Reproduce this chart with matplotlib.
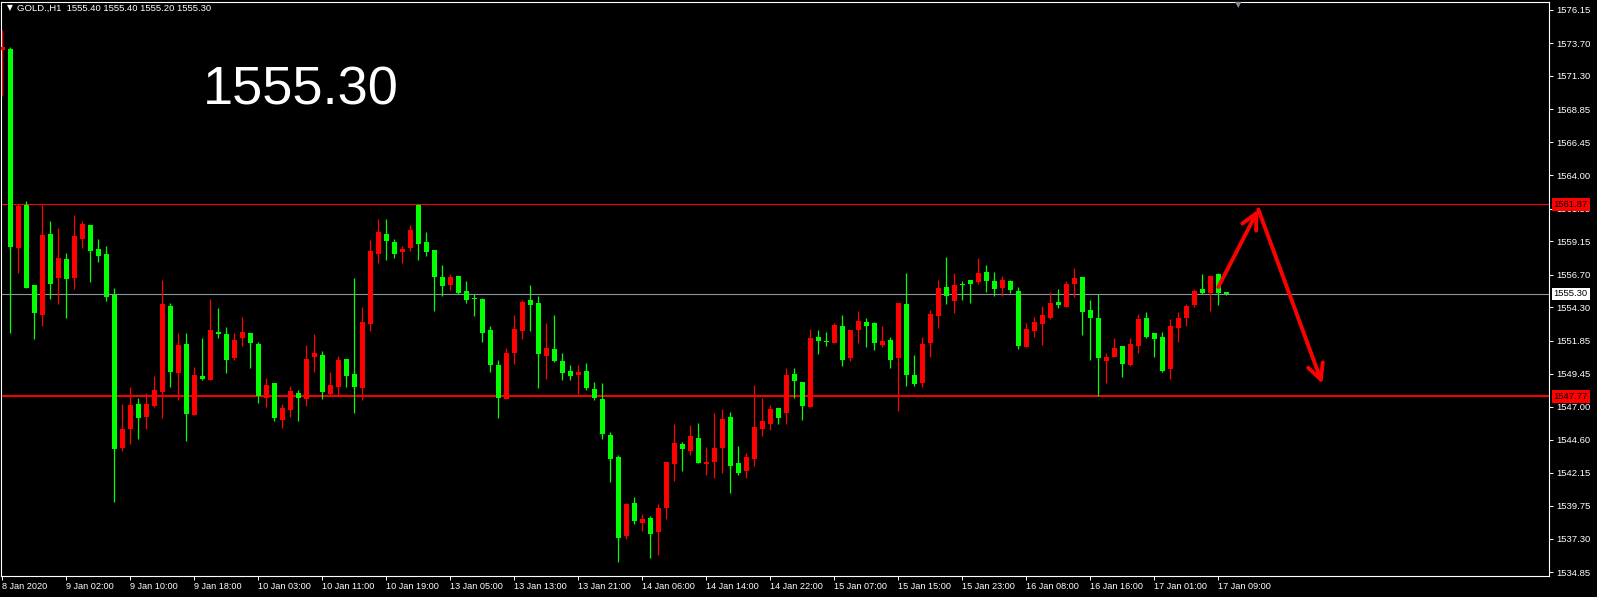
import matplotlib
matplotlib.use("Agg")
import matplotlib.pyplot as plt

# GOLD., H1 candles (8 Jan 18:00 -> 17 Jan 10:00)
opens = [1573.2, 1573.3, 1558.69, 1561.82, 1555.95, 1553.75, 1559.69, 1556.49, 1557.86, 1556.49,
         1559.35, 1560.35, 1558.59, 1558.22, 1555.21, 1544.00, 1545.40, 1547.21, 1546.28, 1547.09,
         1548.11, 1554.41, 1549.51, 1551.62, 1546.43, 1549.27, 1548.97, 1552.50, 1552.35, 1550.61,
         1552.08, 1552.42, 1551.62, 1547.67, 1548.75, 1546.06, 1546.79, 1548.02, 1547.60, 1550.69,
         1550.81, 1547.97, 1548.48, 1550.51, 1549.41, 1548.41, 1553.11, 1558.25, 1559.69, 1559.11,
         1558.40, 1558.69, 1561.82, 1559.11, 1558.52, 1556.54, 1555.95, 1556.61, 1555.51, 1554.99,
         1554.92, 1552.64, 1550.07, 1547.60, 1550.98, 1552.59, 1554.85, 1554.63, 1550.76, 1551.25,
         1550.37, 1549.63, 1549.36, 1549.63, 1548.31, 1547.58, 1544.93, 1543.32, 1537.54, 1539.94,
         1538.47, 1538.84, 1537.83, 1539.60, 1542.83, 1544.27, 1543.78, 1544.71, 1542.83, 1542.97,
         1544.00, 1546.25, 1542.88, 1542.31, 1543.19, 1545.40, 1545.76, 1546.92, 1546.57, 1549.41,
         1548.82, 1547.01, 1552.13, 1551.84, 1551.71, 1552.94, 1550.61, 1552.67, 1553.23, 1553.16,
         1551.57, 1551.91, 1550.61, 1554.55, 1549.34, 1548.77, 1551.71, 1553.70, 1555.80, 1554.80,
         1556.02, 1556.31, 1556.19, 1556.90, 1556.24, 1555.75, 1556.24, 1555.51, 1551.42, 1552.59,
         1553.11, 1553.55, 1554.70, 1554.33, 1556.05, 1556.54, 1554.11, 1553.52, 1550.39, 1550.69,
         1551.47, 1550.10, 1551.49, 1553.52, 1552.42, 1552.13, 1549.80, 1552.81, 1553.55, 1554.50,
         1555.65, 1555.33, 1556.76, 1555.40]
highs = [1574.7, 1573.4, 1561.90, 1562.12, 1555.95, 1561.82, 1560.65, 1560.13, 1558.30, 1561.09,
         1560.62, 1560.35, 1559.33, 1558.84, 1555.75, 1547.21, 1548.46, 1547.65, 1548.02, 1549.27,
         1556.31, 1554.63, 1552.42, 1552.42, 1549.93, 1552.06, 1554.92, 1554.26, 1552.86, 1552.42,
         1553.60, 1552.42, 1551.76, 1549.12, 1548.75, 1547.21, 1548.53, 1548.24, 1551.54, 1552.35,
         1551.10, 1549.58, 1550.73, 1550.51, 1556.46, 1554.33, 1559.25, 1560.80, 1560.80, 1559.33,
         1558.81, 1560.35, 1561.87, 1559.84, 1558.52, 1557.42, 1556.76, 1556.61, 1556.24, 1555.31,
         1554.99, 1552.94, 1550.44, 1551.32, 1553.75, 1554.85, 1555.95, 1555.14, 1553.16, 1553.75,
         1550.95, 1550.07, 1550.07, 1550.22, 1548.82, 1548.75, 1545.15, 1543.46, 1539.94, 1540.38,
         1539.13, 1538.98, 1539.86, 1542.95, 1545.74, 1544.42, 1545.67, 1545.81, 1544.05, 1546.55,
         1546.84, 1546.62, 1544.13, 1543.61, 1548.61, 1547.65, 1547.14, 1546.92, 1549.85, 1549.85,
         1548.82, 1552.72, 1552.64, 1552.50, 1553.16, 1553.75, 1552.64, 1554.04, 1553.52, 1553.23,
         1552.94, 1552.13, 1554.63, 1556.83, 1550.80, 1552.13, 1554.11, 1556.31, 1558.01, 1556.83,
         1556.24, 1556.31, 1557.93, 1557.42, 1556.90, 1556.61, 1556.31, 1555.80, 1553.16, 1553.60,
         1554.41, 1555.43, 1555.65, 1556.24, 1557.20, 1556.54, 1554.85, 1555.29, 1550.95, 1552.06,
         1551.47, 1552.06, 1553.82, 1553.97, 1552.42, 1552.50, 1553.45, 1553.97, 1554.55, 1555.65,
         1556.76, 1556.61, 1556.83, 1555.40]
lows = [1569.8, 1552.45, 1556.85, 1555.70, 1552.01, 1552.96, 1554.95, 1554.58, 1553.55, 1555.68,
        1558.69, 1556.19, 1557.66, 1554.80, 1540.04, 1543.78, 1544.30, 1544.66, 1545.40, 1547.01,
        1546.21, 1548.48, 1547.53, 1544.52, 1546.43, 1548.97, 1548.97, 1552.08, 1549.51, 1550.46,
        1551.49, 1549.88, 1547.31, 1547.01, 1545.99, 1545.47, 1546.28, 1545.99, 1547.09, 1549.58,
        1547.58, 1547.90, 1547.82, 1548.48, 1546.57, 1547.53, 1552.59, 1557.59, 1557.81, 1557.96,
        1557.59, 1558.47, 1557.81, 1558.10, 1554.06, 1555.17, 1555.61, 1555.30, 1554.65, 1553.70,
        1551.79, 1549.58, 1546.21, 1547.60, 1550.17, 1552.01, 1552.59, 1548.41, 1549.07, 1550.29,
        1548.99, 1548.99, 1547.97, 1548.26, 1547.53, 1544.66, 1541.51, 1535.64, 1537.32, 1538.42,
        1537.90, 1535.92, 1536.14, 1538.79, 1541.58, 1542.31, 1543.49, 1542.90, 1542.02, 1541.80,
        1542.17, 1540.70, 1542.02, 1541.80, 1542.68, 1544.88, 1545.32, 1545.76, 1545.76, 1547.67,
        1546.06, 1547.01, 1550.91, 1551.49, 1551.71, 1550.02, 1550.39, 1551.71, 1551.42, 1551.20,
        1551.42, 1549.88, 1546.72, 1548.56, 1548.56, 1548.48, 1550.69, 1552.81, 1554.58, 1553.92,
        1554.87, 1554.65, 1556.05, 1555.46, 1555.17, 1555.17, 1555.39, 1551.27, 1551.42, 1552.15,
        1551.57, 1553.48, 1554.28, 1554.33, 1555.09, 1552.30, 1550.46, 1547.82, 1548.78, 1550.69,
        1549.22, 1550.02, 1550.98, 1552.08, 1550.69, 1549.58, 1549.07, 1551.79, 1552.96, 1554.36,
        1555.30, 1554.06, 1554.50, 1555.20]
closes = [1573.4, 1558.76, 1561.75, 1555.75, 1553.92, 1559.62, 1556.05, 1557.93, 1556.39, 1559.55,
          1560.43, 1558.47, 1558.10, 1555.09, 1543.93, 1545.37, 1547.14, 1546.21, 1547.21, 1548.24,
          1554.55, 1549.58, 1551.54, 1546.50, 1549.34, 1549.05, 1552.64, 1552.35, 1550.46, 1551.91,
          1552.50, 1551.71, 1547.82, 1548.61, 1546.21, 1546.92, 1548.16, 1547.67, 1550.51, 1550.95,
          1548.09, 1548.61, 1550.44, 1549.29, 1548.48, 1553.23, 1558.45, 1559.84, 1559.20, 1558.25,
          1558.59, 1559.99, 1558.98, 1558.40, 1556.54, 1555.88, 1556.54, 1555.36, 1554.87, 1554.94,
          1552.45, 1550.10, 1547.67, 1550.95, 1552.72, 1554.70, 1554.50, 1550.91, 1551.32, 1550.37,
          1549.51, 1549.29, 1549.56, 1548.41, 1547.67, 1545.03, 1543.19, 1537.39, 1539.86, 1538.64,
          1538.76, 1537.69, 1539.57, 1542.95, 1544.34, 1543.93, 1544.86, 1542.90, 1542.95, 1543.98,
          1546.11, 1542.68, 1542.17, 1543.32, 1545.52, 1545.96, 1546.84, 1546.21, 1549.34, 1548.90,
          1547.09, 1552.06, 1551.86, 1551.79, 1553.01, 1550.46, 1552.64, 1553.31, 1552.96, 1551.71,
          1551.84, 1550.46, 1554.63, 1549.36, 1548.70, 1551.62, 1553.82, 1555.73, 1555.17, 1555.95,
          1555.97, 1556.05, 1556.83, 1556.26, 1555.68, 1556.31, 1555.61, 1551.49, 1552.72, 1553.23,
          1553.75, 1554.63, 1554.50, 1556.02, 1556.46, 1553.99, 1553.55, 1550.61, 1550.66, 1551.32,
          1550.17, 1551.62, 1553.45, 1552.15, 1552.01, 1549.66, 1552.94, 1553.52, 1554.41, 1555.51,
          1555.33, 1556.61, 1555.33, 1555.30]

time_labels = ["8 Jan 2020", "9 Jan 02:00", "9 Jan 10:00", "9 Jan 18:00", "10 Jan 03:00",
               "10 Jan 11:00", "10 Jan 19:00", "13 Jan 05:00", "13 Jan 13:00", "13 Jan 21:00",
               "14 Jan 06:00", "14 Jan 14:00", "14 Jan 22:00", "15 Jan 07:00", "15 Jan 15:00",
               "15 Jan 23:00", "16 Jan 08:00", "16 Jan 16:00", "17 Jan 01:00", "17 Jan 09:00"]
label_every = 8

price_ticks = [1576.15, 1573.70, 1571.30, 1568.85, 1566.45, 1564.00, 1561.55, 1559.15, 1556.70,
               1554.30, 1551.85, 1549.45, 1547.00, 1544.60, 1542.15, 1539.75, 1537.30, 1534.85]

resistance = 1561.87
support = 1547.77
bid = closes[-1]

# hand drawn forecast arrows (bar index, price)
arrow_x = [152, 157, 165]
arrow_y = [1555.8, 1561.5, 1548.7]

up_col = "#ff0000"
down_col = "#00ff00"

fig = plt.figure(figsize=(15.97, 5.97), dpi=100, facecolor="black")
ax = fig.add_axes([0.000814, 0.03518, 0.96932, 0.96164])
ax.set_facecolor("black")

x = list(range(len(opens)))
cols = [up_col if c > o else down_col for o, c in zip(opens, closes)]
bottoms = [min(o, c) for o, c in zip(opens, closes)]
heights = [max(abs(c - o), 0.07) for o, c in zip(opens, closes)]

ax.vlines(x, lows, highs, colors=cols, linewidth=0.9, zorder=3)
ax.bar(x, heights, bottom=bottoms, width=0.63, color=cols, linewidth=0, zorder=4)

ax.axhline(resistance, color="#ff0000", lw=0.8, zorder=2)
ax.axhline(support, color="#ff0000", lw=1.4, zorder=2)
ax.axhline(bid, color="#8c96a0", lw=0.8, zorder=2)

# arrows
arrow_kw = dict(arrowstyle="->", color="red", lw=2.8, mutation_scale=28, shrinkA=0, shrinkB=0)
ax.annotate("", xy=(arrow_x[1], arrow_y[1]), xytext=(arrow_x[0], arrow_y[0]),
            arrowprops=arrow_kw, zorder=6)
ax.annotate("", xy=(arrow_x[2], arrow_y[2]), xytext=(arrow_x[1], arrow_y[1]),
            arrowprops=arrow_kw, zorder=6)

ax.set_xlim(-0.13, 193.37)
ax.set_ylim(1534.58, 1576.74)

tick_pos = [i * label_every for i in range(len(time_labels))]
ax.set_xticks(tick_pos)
ax.set_xticklabels(time_labels, ha="left", fontsize=6.6, family="Liberation Sans", color="white")
ax.tick_params(axis="x", colors="white", length=3, width=0.7, pad=1.5)

ax.yaxis.tick_right()
ax.set_yticks(price_ticks)
ax.set_yticklabels([f"{p:.2f}" for p in price_ticks], fontsize=6.8, family="Liberation Sans", color="white")
ax.tick_params(axis="y", colors="white", length=3, width=0.7, pad=2)

for sp in ax.spines.values():
    sp.set_color("white")
    sp.set_linewidth(0.8)

# price tags on the right scale
for val, fc in [(resistance, "#ff0000"), (support, "#ff0000"), (bid, "white")]:
    ax.annotate(f"{val:.2f}", xy=(1, val), xycoords=("axes fraction", "data"),
                xytext=(3.2, 0), textcoords="offset points", ha="left", va="center",
                fontsize=6.8, family="Liberation Sans", color="black", zorder=7,
                annotation_clip=False,
                bbox=dict(boxstyle="square,pad=0.18", fc=fc, ec="none"))

# header and big price text
fig.text(0.0045, 0.9866, "\u25bc", color="white", fontsize=5.5, family="DejaVu Sans", va="center")
fig.text(0.0105, 0.9866, "GOLD.,H1  %.2f %.2f %.2f %.2f" % (opens[-1], highs[-1], lows[-1], closes[-1]),
         color="white", fontsize=6.8, family="Liberation Sans", va="center")
fig.text(0.7752, 0.9925, "\u25bc", color="#7f8c99", fontsize=6, family="DejaVu Sans",
         ha="center", va="center")
fig.text(0.1270, 0.8476, f"{bid:.2f}", color="white", fontsize=39, family="Liberation Sans",
         ha="left", va="center", path_effects=None)

plt.savefig("out.png", dpi=100, facecolor="black")
